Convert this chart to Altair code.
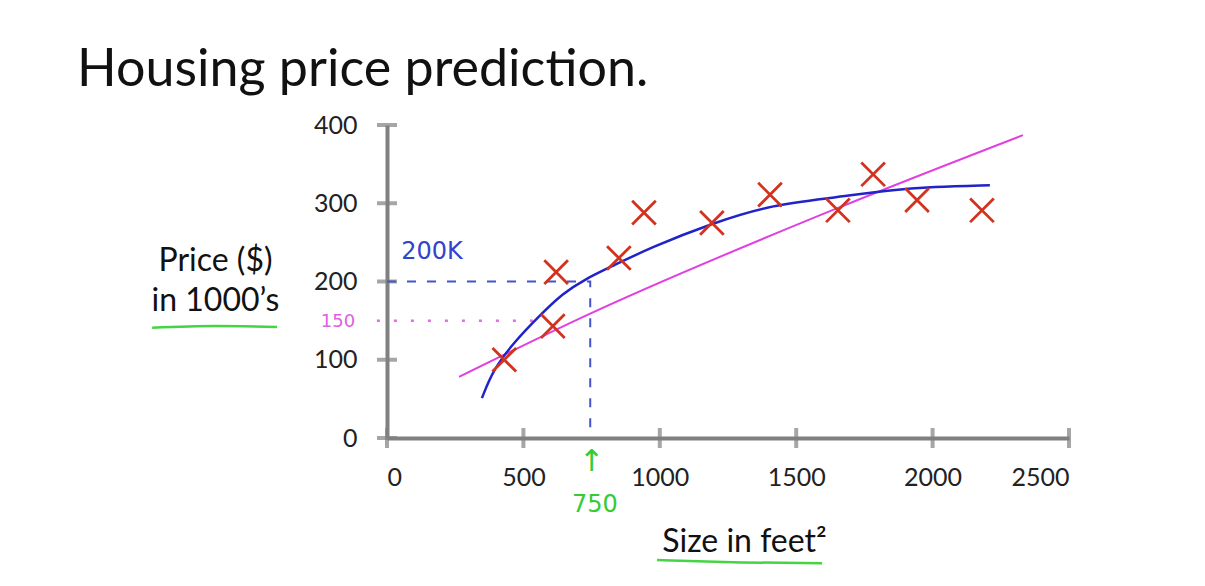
import altair as alt
import pandas as pd

FONT = "Lato"

# Data points (red X)
size_sqft = [430, 608, 620, 850, 942, 1191, 1404, 1653, 1782, 1943, 2181]
price_k = [100, 143, 212, 230, 288, 275, 311, 291, 337, 304, 291]

# Pink straight-ish fit
pink_x = [264, 733, 1653, 2331]
pink_y = [78, 157, 294, 387]

# Blue curved fit
blue_x = [348, 389, 462, 561, 645, 726, 828, 964, 1195, 1411, 1635, 1844, 2001, 2210]
blue_y = [51, 87, 121, 157, 185, 203, 220, 243, 275, 298, 307, 317, 321, 323]

# Axis ticks
x_ticks = [0, 500, 1000, 1500, 2000, 2500]
y_ticks = [0, 100, 200, 300, 400]

# Annotation guide lines
blue_guide_x = [0, 745, 745]
blue_guide_y = [200, 200, 0]
pink_guide_x = [-37, 560]
pink_guide_y = [150, 150]

# Handwritten annotations
note_text = ["200K", "150", "750", "↑"]
note_x = [165, -180, 762, 750]
note_y = [238, 148, -86, -31]
note_color = ["#3344cc", "#e060e0", "#33cc33", "#33cc33"]
note_size = [24, 18, 24, 30]

# Green underlines
ul_group = ["y", "y", "y", "x", "x", "x"]
ul_x = [-861, -630, -403, 990, 1300, 1595]
ul_y = [141, 143, 142, -156, -159, -160]

W, H = 682, 313
xs = alt.Scale(domain=[0, 2500], nice=False)
ys = alt.Scale(domain=[0, 400], nice=False)

pts = pd.DataFrame({"x": size_sqft, "y": price_k})
pink = pd.DataFrame({"x": pink_x, "y": pink_y})
blue = pd.DataFrame({"x": blue_x, "y": blue_y})
bguide = pd.DataFrame({"x": blue_guide_x, "y": blue_guide_y, "o": [0, 1, 2]})
pguide = pd.DataFrame({"x": pink_guide_x, "y": pink_guide_y})
notes = pd.DataFrame({"t": note_text, "x": note_x, "y": note_y, "c": note_color, "s": note_size})
ul = pd.DataFrame({"g": ul_group, "x": ul_x, "y": ul_y})
xt = pd.DataFrame({"x": x_ticks})
yt = pd.DataFrame({"y": y_ticks})

gray = "#808080"

base_x = alt.X("x:Q", scale=xs,
               axis=alt.Axis(values=x_ticks, format="d", grid=False, ticks=False, tickSize=0,
                             domainColor=gray, domainWidth=4, labelFontSize=25,
                             labelFont=FONT, labelColor="#222", labelPadding=27,
                             title="Size in feet²", titleFont=FONT, titleFontSize=32,
                             titleFontWeight="normal", titleColor="#111",
                             titleX=357, titleY=113, titleAlign="center",
                             titleBaseline="alphabetic", titleAnchor="start"))
base_y = alt.Y("y:Q", scale=ys,
               axis=alt.Axis(values=y_ticks, format="d", grid=False, ticks=False, tickSize=0,
                             domainColor=gray, domainWidth=4, labelFontSize=25,
                             labelFont=FONT, labelColor="#222", labelPadding=30,
                             title=["Price ($)", "in 1000’s"], titleAngle=0,
                             titleFont=FONT, titleFontSize=32, titleFontWeight="normal",
                             titleColor="#111", titleX=-172, titleY=145,
                             titleAlign="center", titleBaseline="alphabetic",
                             titleLineHeight=40, titleAnchor="start"))

axes_layer = alt.Chart(pts).mark_point(opacity=0).encode(x=base_x, y=base_y)

xtick_layer = alt.Chart(xt).mark_tick(orient="vertical", size=20, thickness=4, color=gray).encode(
    x=alt.X("x:Q", scale=xs), y=alt.value(H))
ytick_layer = alt.Chart(yt).mark_tick(orient="horizontal", size=20, thickness=4, color=gray).encode(
    y=alt.Y("y:Q", scale=ys), x=alt.value(0))

bguide_layer = alt.Chart(bguide).mark_line(color="#4455cc", strokeWidth=2, strokeDash=[9, 11], clip=False).encode(
    x=alt.X("x:Q", scale=xs), y=alt.Y("y:Q", scale=ys), order="o:Q")
pguide_layer = alt.Chart(pguide).mark_line(color="#e070e0", strokeWidth=2.5, strokeDash=[3, 14], clip=False).encode(
    x=alt.X("x:Q", scale=xs), y=alt.Y("y:Q", scale=ys))

pink_layer = alt.Chart(pink).mark_line(color="#e040e0", strokeWidth=2, interpolate="monotone").encode(
    x=alt.X("x:Q", scale=xs), y=alt.Y("y:Q", scale=ys))
blue_layer = alt.Chart(blue).mark_line(color="#1f23c8", strokeWidth=2.5, interpolate="basis").encode(
    x=alt.X("x:Q", scale=xs), y=alt.Y("y:Q", scale=ys))

pts_layer = alt.Chart(pts).mark_point(
    shape="M -1 -1 L 1 1 M -1 1 L 1 -1", filled=False, strokeWidth=2.8, size=560, color="#d2321e", opacity=1
).encode(x=alt.X("x:Q", scale=xs), y=alt.Y("y:Q", scale=ys))

notes_layer = alt.Chart(notes).mark_text(font="DejaVu Sans", clip=False).encode(
    x=alt.X("x:Q", scale=xs), y=alt.Y("y:Q", scale=ys), text="t:N",
    color=alt.Color("c:N", scale=None), size=alt.Size("s:Q", scale=None))

ul_layer = alt.Chart(ul).mark_line(color="#44d444", strokeWidth=2.5, interpolate="monotone", clip=False).encode(
    x=alt.X("x:Q", scale=xs), y=alt.Y("y:Q", scale=ys), detail="g:N")

chart = alt.layer(
    axes_layer, xtick_layer, ytick_layer, bguide_layer, pguide_layer,
    pink_layer, blue_layer, pts_layer, notes_layer, ul_layer
).properties(
    width=W, height=H,
    padding={"left": 379, "top": 117, "right": 120, "bottom": 130},
    autosize="none",
    background="white",
    title=alt.TitleParams("Housing price prediction.", anchor="start", font=FONT, fontSize=52,
                          fontWeight="normal", color="#111", dx=-70, dy=4, offset=20),
).configure_view(strokeOpacity=0, strokeWidth=0)

chart.save("out.html", embed_options={"renderer": "svg", "actions": False})
